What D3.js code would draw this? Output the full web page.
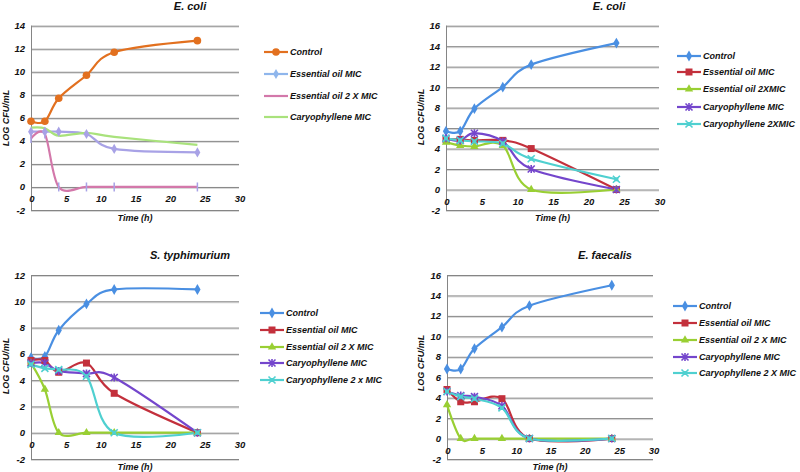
<!DOCTYPE html>
<html>
<head>
<meta charset="utf-8">
<script src="https://cdn.jsdelivr.net/npm/d3@7"></script>
<style>
  body { margin: 0; background: #fff; }
  svg { display: block; }
  text { font-family: "Liberation Sans", Arial, sans-serif; font-weight: bold; font-style: italic; fill: #111; }
</style>
</head>
<body>
<svg id="chart" width="800" height="472"></svg>
<script>
// ---------------- DATA ----------------
const hours = [0, 2, 4, 8, 12, 24];
const xTicks = [0, 5, 10, 15, 20, 25, 30];
const yTicks14 = [-2, 0, 2, 4, 6, 8, 10, 12, 14];
const yTicks16 = [-2, 0, 2, 4, 6, 8, 10, 12, 14, 16];
const yTicks12 = [-2, 0, 2, 4, 6, 8, 10, 12];

const titles = ["E. coli", "E. coli", "S. typhimurium", "E. faecalis"];
const xLabel = "Time (h)";
const yLabel = "LOG CFU/mL";

// Panel 1: E. coli
const p1Names = ["Control", "Essential oil MIC", "Essential oil 2 X MIC", "Caryophyllene MIC"];
const p1Control = [5.7, 5.7, 7.7, 9.7, 11.7, 12.7];
const p1EoMic = [4.8, 4.8, 4.8, 4.6, 3.3, 3.0];
const p1Eo2xMic = [4.2, 4.6, 0, 0, 0, 0];
const p1CarMic = [5.15, 5.1, 4.45, 4.7, 4.35, 3.65];

// Panel 2: E. coli
const p2Names = ["Control", "Essential oil MIC", "Essential oil 2XMIC", "Caryophyllene MIC", "Caryophyllene 2XMIC"];
const p2Control = [5.7, 5.7, 7.9, 10.0, 12.2, 14.3];
const p2EoMic = [4.9, 4.9, 4.8, 4.8, 4.0, 0];
const p2Eo2xMic = [4.6, 4.3, 4.2, 4.3, 0, 0];
const p2CarMic = [5.0, 4.8, 5.5, 4.7, 2.0, 0];
const p2Car2xMic = [5.0, 4.8, 4.7, 4.5, 3.0, 1.0];

// Panel 3: S. typhimurium
const p3Names = ["Control", "Essential oil MIC", "Essential oil 2 X MIC", "Caryophyllene MIC", "Caryophyllene 2 x MIC"];
const p3Control = [5.7, 5.8, 7.8, 9.8, 10.9, 10.9];
const p3EoMic = [5.5, 5.5, 4.6, 5.3, 3.0, 0];
const p3Eo2xMic = [5.3, 3.3, 0, 0, 0, 0];
const p3CarMic = [5.3, 5.3, 4.7, 4.5, 4.2, 0];
const p3Car2xMic = [5.2, 4.9, 4.8, 4.3, 0, 0];

// Panel 4: E. faecalis
const p4Names = ["Control", "Essential oil MIC", "Essential oil 2 X MIC", "Caryophyllene MIC", "Caryophyllene  2 X MIC"];
const p4Control = [6.8, 6.8, 8.8, 10.9, 13.0, 15.0];
const p4EoMic = [4.8, 3.6, 3.6, 3.9, 0, 0];
const p4Eo2xMic = [3.3, 0, 0, 0, 0, 0];
const p4CarMic = [4.6, 4.2, 4.1, 3.2, 0, 0];
const p4Car2xMic = [4.6, 4.1, 3.9, 3.0, 0, 0];

// ---------------- STYLE ----------------
const C = {
  orange: "#e2701f", lavender: "#a8a2e6", lightblue: "#8fb6ec", pink: "#d378aa", lightgreen: "#a9e27c",
  blue: "#4a8fe2", red: "#c3303c", green: "#99cf33", purple: "#7446cc", cyan: "#4fd0d0"
};

const panels = [
  { title: titles[0], left: 31, right: 239, top: 25.7, bottom: 210, ymin: -2, ymax: 14, yTicks: yTicks14,
    titleX: 190, titleY: 10, xLabY: 221, yLabX: 9, yLabY: 118,
    legX: 264, legY: [52, 74, 96, 117],
    series: [
      { name: p1Names[0], values: p1Control, color: C.orange, marker: "circle" },
      { name: p1Names[1], values: p1EoMic, color: C.lavender, legendColor: C.lightblue, marker: "diamondS" },
      { name: p1Names[2], values: p1Eo2xMic, color: C.pink, marker: "tick", markerColor: C.lavender, legendMarker: "none" },
      { name: p1Names[3], values: p1CarMic, color: C.lightgreen, marker: "none" }
    ] },
  { title: titles[1], left: 446, right: 659, top: 25.7, bottom: 210, ymin: -2, ymax: 16, yTicks: yTicks16,
    titleX: 609, titleY: 10, xLabY: 221, yLabX: 424, yLabY: 117,
    legX: 677, legY: [56, 72, 89, 107, 124],
    series: [
      { name: p2Names[0], values: p2Control, color: C.blue, marker: "diamond" },
      { name: p2Names[1], values: p2EoMic, color: C.red, marker: "square" },
      { name: p2Names[2], values: p2Eo2xMic, color: C.green, marker: "triangle" },
      { name: p2Names[3], values: p2CarMic, color: C.purple, marker: "star" },
      { name: p2Names[4], values: p2Car2xMic, color: C.cyan, marker: "xsq" }
    ] },
  { title: titles[2], left: 31, right: 239, top: 275, bottom: 459, ymin: -2, ymax: 12, yTicks: yTicks12,
    titleX: 190, titleY: 259, xLabY: 470, yLabX: 9, yLabY: 366,
    legX: 260, legY: [313, 330, 347, 363, 380],
    series: [
      { name: p3Names[0], values: p3Control, color: C.blue, marker: "diamond" },
      { name: p3Names[1], values: p3EoMic, color: C.red, marker: "square" },
      { name: p3Names[2], values: p3Eo2xMic, color: C.green, marker: "triangle" },
      { name: p3Names[3], values: p3CarMic, color: C.purple, marker: "star" },
      { name: p3Names[4], values: p3Car2xMic, color: C.cyan, marker: "xsq" }
    ] },
  { title: titles[3], left: 447, right: 653, top: 275, bottom: 459, ymin: -2, ymax: 16, yTicks: yTicks16,
    titleX: 605, titleY: 259, xLabY: 470, yLabX: 424, yLabY: 363,
    legX: 673, legY: [306, 323, 340, 357, 373],
    series: [
      { name: p4Names[0], values: p4Control, color: C.blue, marker: "diamond" },
      { name: p4Names[1], values: p4EoMic, color: C.red, marker: "square" },
      { name: p4Names[2], values: p4Eo2xMic, color: C.green, marker: "triangle" },
      { name: p4Names[3], values: p4CarMic, color: C.purple, marker: "star" },
      { name: p4Names[4], values: p4Car2xMic, color: C.cyan, marker: "xsq" }
    ] }
];

const svg = d3.select("#chart");

function drawMarker(g, type, color, x, y) {
  if (type === "none") return;
  if (type === "circle") {
    g.append("circle").attr("cx", x).attr("cy", y).attr("r", 3.8).attr("fill", color);
  } else if (type === "diamond" || type === "diamondS") {
    g.append("path").attr("d", d3.symbol(d3.symbolDiamond, type === "diamond" ? 34 : 30)())
      .attr("transform", `translate(${x},${y})`).attr("fill", color);
  } else if (type === "square") {
    g.append("rect").attr("x", x - 3.5).attr("y", y - 3.5).attr("width", 7).attr("height", 7).attr("fill", color);
  } else if (type === "triangle") {
    g.append("path").attr("d", d3.symbol(d3.symbolTriangle, 30)())
      .attr("transform", `translate(${x},${y})`).attr("fill", color);
  } else if (type === "star") {
    const s = 3.5;
    g.append("path").attr("d", `M${x - s},${y - s}L${x + s},${y + s}M${x - s},${y + s}L${x + s},${y - s}M${x},${y - s - 0.5}L${x},${y + s + 0.5}`)
      .attr("stroke", color).attr("stroke-width", 1.6).attr("fill", "none");
  } else if (type === "xsq") {
    const s = 3.5;
    g.append("path").attr("d", `M${x - s},${y - s}L${x + s},${y + s}M${x - s},${y + s}L${x + s},${y - s}`)
      .attr("stroke", color).attr("stroke-width", 1.6).attr("fill", "none");
    g.append("rect").attr("x", x - 2).attr("y", y - 2).attr("width", 4).attr("height", 4).attr("fill", color);
  } else if (type === "tick") {
    g.append("path").attr("d", `M${x},${y - 4.5}L${x},${y + 4.5}`)
      .attr("stroke", color).attr("stroke-width", 1.5);
  }
}

panels.forEach(p => {
  const g = svg.append("g");
  const x = d3.scaleLinear().domain([0, 30]).range([p.left, p.right]);
  const y = d3.scaleLinear().domain([p.ymin, p.ymax]).range([p.bottom, p.top]);

  // gridlines with light shadow
  p.yTicks.forEach(t => {
    g.append("line").attr("x1", p.left).attr("x2", p.right).attr("y1", y(t) + 1.5).attr("y2", y(t) + 1.5)
      .attr("stroke", "#d8d8d8").attr("stroke-width", 1);
    g.append("line").attr("x1", p.left).attr("x2", p.right).attr("y1", y(t) + 0.5).attr("y2", y(t) + 0.5)
      .attr("stroke", "#858585").attr("stroke-width", 1);
  });
  // vertical axis line
  g.append("line").attr("x1", p.left + 0.5).attr("x2", p.left + 0.5).attr("y1", p.top).attr("y2", p.bottom + 1)
    .attr("stroke", "#858585").attr("stroke-width", 1);

  // y tick labels
  g.append("g").selectAll("text").data(p.yTicks).join("text")
    .attr("x", p.left - 6).attr("y", d => y(d) + 3.5)
    .attr("text-anchor", "end").attr("font-size", 9.5).text(d => d);
  // x tick labels (below the zero line)
  g.append("g").selectAll("text").data(xTicks).join("text")
    .attr("x", d => x(d) + 1).attr("y", y(0) + 15)
    .attr("text-anchor", "middle").attr("font-size", 9.5).text(d => d);

  // title and axis labels
  g.append("text").attr("x", p.titleX).attr("y", p.titleY).attr("text-anchor", "middle")
    .attr("font-size", 11).text(p.title);
  g.append("text").attr("x", (p.left + p.right) / 2).attr("y", p.xLabY).attr("text-anchor", "middle")
    .attr("font-size", 9).text(xLabel);
  g.append("text").attr("transform", `translate(${p.yLabX},${p.yLabY}) rotate(-90)`)
    .attr("text-anchor", "middle").attr("font-size", 9).text(yLabel);

  // series lines
  const line = d3.line().x((d, i) => x(hours[i])).y(d => y(d)).curve(d3.curveCatmullRom.alpha(0));
  p.series.forEach(s => {
    g.append("path").attr("d", line(s.values)).attr("fill", "none")
      .attr("stroke", s.color).attr("stroke-width", 2.2).attr("stroke-linejoin", "round");
  });
  p.series.forEach(s => {
    s.values.forEach((v, i) => drawMarker(g, s.marker, s.markerColor || s.color, x(hours[i]), y(v)));
  });

  // legend
  p.series.forEach((s, i) => {
    const ly = p.legY[i];
    const lc = s.legendColor || s.color;
    g.append("line").attr("x1", p.legX).attr("x2", p.legX + 24).attr("y1", ly).attr("y2", ly)
      .attr("stroke", lc).attr("stroke-width", 2.2);
    const lm = s.legendMarker || (s.marker === "diamondS" ? "diamondS" : s.marker);
    drawMarker(g, lm, lc, p.legX + 12, ly);
    g.append("text").attr("x", p.legX + 26).attr("y", ly + 3.2).attr("font-size", 9).text(s.name);
  });
});
</script>
</body>
</html>
